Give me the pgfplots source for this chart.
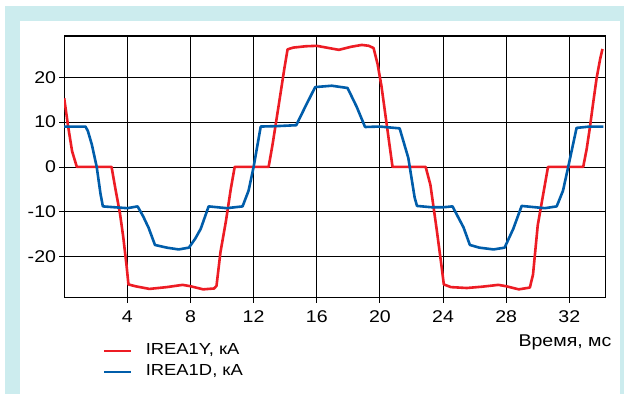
\documentclass[border=0pt]{standalone}
\usepackage{fontspec}
\setmainfont{Liberation Sans}[FakeStretch=1.15]
\usepackage{pgfplots}
\pgfplotsset{compat=1.18}
\definecolor{cyanbg}{RGB}{204,236,238}
\definecolor{cred}{RGB}{237,28,36}
\definecolor{cblue}{RGB}{0,93,170}
\begin{document}
\begin{tikzpicture}[x=1pt,y=1pt]
\fill[white] (0,0) rectangle (624,394);
\fill[cyanbg] (5,0) rectangle (624,388);
\fill[white] (20,0) rectangle (619.5,373.3);
\path[use as bounding box] (0,0) rectangle (624,394);
\begin{axis}[
  at={(64.2pt,96.3pt)}, anchor=south west,
  scale only axis, width=541.1pt, height=261.7pt,
  xmin=0, xmax=34.28, ymin=-29.16, ymax=29.19,
  xtick={4,8,...,32}, xticklabels={4,8,12,16,20,24,28,32},
  ytick={-20,-10,0,10,20}, yticklabels={-20,-10,0,10,20},
  grid=major, major grid style={black, line width=0.8pt},
  axis line style={black, line width=1.2pt},
  tick align=outside, major tick length=5pt, tick style={black, line width=0.8pt},
  tick pos=left,
  ticklabel style={font=\fontsize{17}{19}\selectfont},
  xticklabel style={anchor=base, inner sep=0pt, yshift=-20pt},
  yticklabel style={anchor=east, inner sep=0pt, xshift=-3pt},
  xlabel={Время, мс},
  xlabel style={at={(axis description cs:1.0117,-0.1859)}, anchor=base east, inner sep=0pt, font=\fontsize{17}{19}\selectfont},
  legend style={at={(axis description cs:0.0717,-0.1700)}, anchor=north west, draw=none, fill=none, inner sep=0pt, row sep=4pt, column sep=12pt,
    font=\fontsize{16}{18}\selectfont, nodes={inner sep=1pt, text height=11.5pt, text depth=3.5pt}},
  legend cell align=left,
  legend image code/.code={\draw[#1] (0pt,0pt) -- (27pt,0pt);},
  every axis plot/.append style={line width=2.6pt, line join=round},
]
\addplot[cred] coordinates {
(0,15.3) (0.25,9) (0.5,3.5) (0.8,0) (3.0,0) (3.25,-5) (3.53,-10.3) (3.74,-15.6) (3.95,-22) (4.07,-26.2)
(4.5,-26.6) (5.4,-27.2) (6.5,-26.8) (7.5,-26.3) (8.0,-26.6) (8.8,-27.3) (9.5,-27.1) (9.65,-26.5)
(9.9,-19) (10.25,-12) (10.55,-5) (10.8,0) (12.95,0) (13.2,5) (13.6,14) (13.95,22) (14.15,26.2)
(14.5,26.6) (15.3,26.9) (16.0,27.0) (17.4,26.1) (18.2,26.8) (18.85,27.2) (19.3,27.0) (19.6,26.5)
(19.85,23) (20.1,18) (20.45,9) (20.8,0) (22.9,0) (23.2,-4) (23.6,-14) (23.9,-22) (24.05,-26.2)
(24.5,-26.8) (25.5,-27.0) (26.5,-26.7) (27.5,-26.3) (28.0,-26.6) (28.8,-27.3) (29.5,-26.9)
(29.7,-24) (30.0,-13) (30.4,-5) (30.65,0) (32.88,0) (33.1,4) (33.3,8.7) (33.5,14) (33.73,19.8)
(33.95,24) (34.1,26.3)
};
\addlegendentry{IREA1Y, кА}
\addplot[cblue] coordinates {
(0,9.0) (1.35,9.0) (1.5,8) (1.75,5) (2.06,0) (2.3,-6) (2.45,-8.8) (3.2,-9.0) (4.0,-9.2) (4.65,-8.8)
(5.0,-11) (5.35,-13.6) (5.75,-17.4) (6.5,-18.0) (7.25,-18.4) (7.9,-18.0) (8.3,-16) (8.65,-13.8)
(9.15,-8.8) (10.3,-9.2) (11.3,-8.8) (11.68,-5.3) (12.0,0) (12.45,9.0) (13.5,9.1) (14.7,9.3)
(15.27,13.4) (15.9,17.8) (16.95,18.1) (17.95,17.6) (18.53,13.4) (19.06,8.9) (20.0,9.0) (21.25,8.6)
(21.8,2) (22.2,-6.8) (22.35,-8.7) (23.3,-9.0) (24.0,-9.0) (24.6,-8.8) (25.3,-13.5) (25.7,-17.4)
(26.3,-18.0) (27.2,-18.4) (27.9,-18.0) (28.45,-13.8) (28.98,-8.7) (30.45,-9.2) (31.2,-8.8)
(31.6,-5.3) (31.93,0) (32.46,8.7) (33.3,9.0) (34.15,9.0)
};
\addlegendentry{IREA1D, кА}
\end{axis}
\end{tikzpicture}
\end{document}
